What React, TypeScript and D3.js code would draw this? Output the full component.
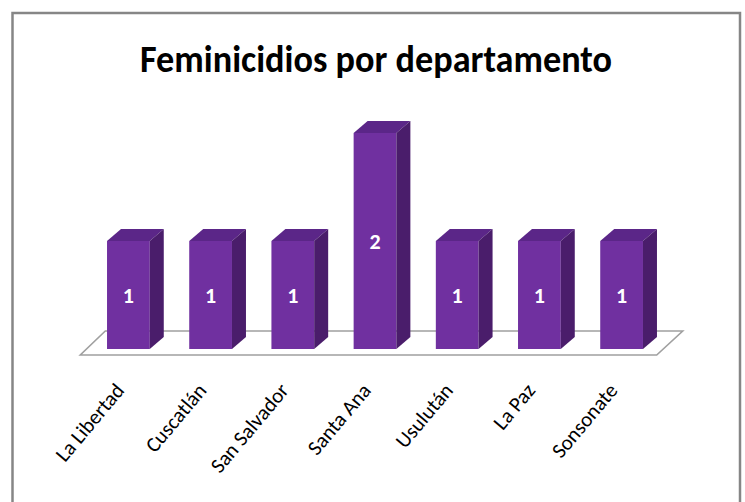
import React from "react";
import * as d3 from "d3";

const categories = ["La Libertad", "Cuscatlán", "San Salvador", "Santa Ana", "Usulután", "La Paz", "Sonsonate"];
const values = [1, 1, 1, 2, 1, 1, 1];
const title = "Feminicidios por departamento";

const W = 745;
const H = 502;

export default function App() {
  const x = d3.scaleBand<string>().domain(categories).range([87.3, 662.7]).paddingInner(0.48).paddingOuter(0.24);
  const y = d3.scaleLinear().domain([0, 2]).range([349, 133]);
  const bw = x.bandwidth();
  const dx = 14;
  const dy = 12;
  const [x0, x1] = x.range();
  const floorFrontY = y(0) + 6;
  const floorBackY = floorFrontY - 24;
  const floor = [
    [x0 - 7, floorFrontY],
    [x1 - 6, floorFrontY],
    [x1 + 20, floorBackY],
    [x0 + 18, floorBackY],
  ];
  const pts = (p: number[][]) => p.map((q) => q.join(",")).join(" ");
  const font = "Carlito, 'Liberation Sans Narrow', 'Liberation Sans', Arial, sans-serif";

  return (
    <svg width={W} height={H} style={{ position: "absolute", left: 0, top: 0, background: "#fff" }}>
      <rect x={12.5} y={13} width={727.5} height={600} fill="#fff" stroke="#868686" strokeWidth={2.5} />
      <text x={376} y={72} textAnchor="middle" fontFamily={font} fontWeight="bold" fontSize={38} fill="#000" textLength={472} lengthAdjust="spacingAndGlyphs">
        {title}
      </text>
      <polygon points={pts(floor)} fill="#fff" stroke="#a0a0a0" strokeWidth={1.6} />
      {categories.map((c, i) => {
        const bx = x(c)!;
        const yt = y(values[i]);
        const yb = y(0);
        const top = [[bx, yt], [bx + dx, yt - dy], [bx + bw + dx, yt - dy], [bx + bw, yt]];
        const side = [[bx + bw, yt], [bx + bw + dx, yt - dy], [bx + bw + dx, yb - dy], [bx + bw, yb]];
        return (
          <g key={c}>
            <rect x={bx} y={yt} width={bw} height={yb - yt} fill="#7030A0" />
            <polygon points={pts(top)} fill="#5B2688" />
            <polygon points={pts(side)} fill="#4A1D6B" />
            <text x={bx + bw / 2} y={(yt + yb) / 2} dy="0.35em" textAnchor="middle" fontFamily={font} fontWeight="bold" fontSize={22} fill="#fff">
              {values[i]}
            </text>
            <text
              transform={`translate(${bx + bw / 2 - 3},${391}) rotate(-50)`}
              textAnchor="end"
              fontFamily={font}
              fontSize={21}
              fill="#000"
            >
              {c}
            </text>
          </g>
        );
      })}
    </svg>
  );
}
